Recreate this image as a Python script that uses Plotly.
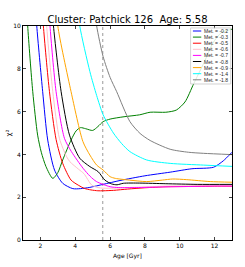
import plotly.graph_objects as go

AGE = 5.58
TITLE = "Cluster: Patchick 126  Age: 5.58"

met_labels = ["Met. = -0.2", "Met. = -0.3", "Met. = -0.5", "Met. = -0.6", "Met. = -0.7",
              "Met. = -0.8", "Met. = -0.9", "Met. = -1.4", "Met. = -1.8"]
colors = ["#0000ff", "#008000", "#ff0000", "#ffc0cb", "#ff00ff",
          "#000000", "#ffa500", "#00ffff", "#808080"]

age_m02 = [1.72, 1.79, 2.13, 2.42, 2.81, 3.28, 3.86, 4.3, 4.84, 5.6, 6.57, 8.0, 9.45, 10.7, 11.94, 12.5, 13.0]
chi_m02 = [11.0, 10.0, 6.93, 4.67, 3.27, 2.65, 2.4, 2.4, 2.46, 2.6, 2.78, 3.0, 3.17, 3.33, 3.4, 3.7, 4.1]

age_m03 = [1.2, 1.27, 1.56, 1.84, 2.05, 2.32, 2.71, 3.0, 3.28, 3.76, 4.05, 4.3, 4.6, 5.0, 5.3, 5.6, 6.0,
           6.8, 7.7, 8.3, 9.2, 9.8, 10.3, 10.8, 11.4, 11.9, 12.4, 13.0]
chi_m03 = [11.2, 10.0, 6.93, 4.9, 4.1, 3.43, 2.88, 3.15, 3.74, 4.67, 5.1, 5.25, 5.2, 5.12, 5.3, 5.53, 5.65,
           5.76, 5.85, 5.97, 5.97, 6.07, 6.45, 7.3, 8.3, 9.2, 9.7, 9.85]

age_m05 = [2.1, 2.17, 2.52, 2.9, 3.28, 3.76, 4.2, 4.53, 4.9, 5.3, 5.6, 6.2, 7.0, 8.0, 9.2, 10.5, 12.0, 13.0]
chi_m05 = [11.0, 10.0, 6.93, 4.7, 3.58, 2.8, 2.55, 2.41, 2.34, 2.3, 2.3, 2.32, 2.38, 2.44, 2.49, 2.5, 2.52, 2.52]

age_m06 = [2.3, 2.36, 2.71, 3.09, 3.5, 3.69, 4.2, 4.5, 4.94, 5.3, 5.6, 6.2, 7.0, 8.0, 9.2, 10.5, 12.0, 13.0]
chi_m06 = [11.0, 10.0, 6.93, 4.75, 3.9, 3.66, 3.3, 3.1, 2.57, 2.45, 2.42, 2.42, 2.45, 2.48, 2.52, 2.53, 2.55, 2.55]

age_m07 = [2.48, 2.55, 2.9, 3.38, 3.78, 4.45, 4.85, 5.22, 6.0, 6.5, 7.5, 9.0, 10.5, 12.0, 13.0]
chi_m07 = [11.0, 10.0, 6.93, 4.75, 4.13, 3.35, 2.98, 2.73, 2.49, 2.45, 2.45, 2.48, 2.5, 2.52, 2.52]

age_m08 = [2.68, 2.75, 3.19, 3.67, 4.26, 4.84, 5.32, 5.7, 6.09, 6.4, 6.76, 7.7, 9.2, 11.0, 13.0]
chi_m08 = [11.0, 10.0, 6.93, 4.9, 3.82, 3.43, 3.19, 2.8, 2.62, 2.58, 2.65, 2.66, 2.63, 2.6, 2.6]

age_m09 = [2.95, 3.0, 3.76, 4.44, 4.84, 5.23, 5.6, 6.0, 6.3, 7.1, 8.1, 9.0, 9.6, 10.4, 11.75, 13.0]
chi_m09 = [11.0, 10.0, 6.93, 4.6, 3.97, 3.5, 3.27, 2.96, 2.88, 2.8, 2.73, 2.8, 2.85, 2.82, 2.73, 2.7]

age_m14 = [4.15, 4.26, 4.84, 5.23, 5.6, 6.19, 6.67, 7.14, 8.1, 9.45, 11.37, 13.0]
chi_m14 = [11.0, 10.0, 7.87, 6.75, 5.85, 5.0, 4.5, 4.13, 3.74, 3.58, 3.5, 3.44]

age_m18 = [5.1, 5.23, 5.6, 6.0, 6.38, 7.14, 7.72, 8.3, 9.45, 10.5, 11.37, 13.0]
chi_m18 = [11.0, 10.0, 8.57, 7.6, 6.93, 5.53, 4.98, 4.65, 4.24, 4.1, 4.05, 3.99]

series_x = [age_m02, age_m03, age_m05, age_m06, age_m07, age_m08, age_m09, age_m14, age_m18]
series_y = [chi_m02, chi_m03, chi_m05, chi_m06, chi_m07, chi_m08, chi_m09, chi_m14, chi_m18]

x_ticks = [2, 4, 6, 8, 10, 12]
y_ticks = [0, 2, 4, 6, 8, 10]

FONT = "DejaVu Sans"
LEG_FONT = "Liberation Sans Narrow, Liberation Sans, Arial, sans-serif"

fig = go.Figure()

fig.add_trace(go.Scatter(x=[AGE, AGE], y=[0, 10], mode="lines",
                         line=dict(color="#808080", width=0.8, dash="dot"),
                         showlegend=False, hoverinfo="skip"))

for xs, ys, c, name in zip(series_x, series_y, colors, met_labels):
    fig.add_trace(go.Scatter(x=xs, y=ys, mode="lines", name=name,
                             line=dict(color=c, width=1, shape="spline", smoothing=0.7),
                             showlegend=False))

# manual compact legend (matplotlib-like)
shapes = [dict(type="rect", xref="paper", yref="paper", x0=0.802, x1=0.994, y0=0.729, y1=0.991,
               fillcolor="rgba(255,255,255,0.85)", line=dict(color="#c8c8c8", width=0.8), layer="above")]
annotations = []
for i, (c, name) in enumerate(zip(colors, met_labels)):
    yy = 0.9766 - 0.0285 * i
    shapes.append(dict(type="line", xref="paper", yref="paper", x0=0.813, x1=0.853, y0=yy, y1=yy,
                       line=dict(color=c, width=1), layer="above"))
    annotations.append(dict(xref="paper", yref="paper", x=0.862, y=yy, text=name, showarrow=False,
                            xanchor="left", yanchor="middle", borderpad=0,
                            font=dict(family=LEG_FONT, size=5, color="#222222")))

# axis titles
annotations.append(dict(xref="paper", yref="paper", x=0.5, y=-0.045, text="Age [Gyr]", showarrow=False,
                        xanchor="center", yanchor="top", font=dict(family=FONT, size=6, color="black")))
annotations.append(dict(xref="paper", yref="paper", x=-0.065, y=0.5, text="χ²", showarrow=False,
                        textangle=-90, xanchor="center", yanchor="middle",
                        font=dict(family=FONT, size=7, color="black")))

fig.update_layout(
    width=245, height=267,
    margin=dict(l=23, r=13, t=26, b=27),
    paper_bgcolor="white", plot_bgcolor="white",
    font=dict(family=FONT, color="black"),
    title=dict(text=TITLE, x=0.5, xref="paper", y=1 - 19 / 267, yref="container",
               xanchor="center", yanchor="middle", font=dict(family=FONT, size=10, color="black")),
    shapes=shapes, annotations=annotations,
    showlegend=False,
    hovermode=False,
)
fig.update_xaxes(range=[1, 13], tickvals=x_ticks, ticks="inside", ticklen=3, tickwidth=0.8,
                 showline=True, linecolor="black", linewidth=1, mirror="ticks", showgrid=False,
                 zeroline=False, tickfont=dict(size=6), automargin=False)
fig.update_yaxes(range=[0, 10], tickvals=y_ticks, ticks="inside", ticklen=3, tickwidth=0.8,
                 showline=True, linecolor="black", linewidth=1, mirror="ticks", showgrid=False,
                 zeroline=False, tickfont=dict(size=6), automargin=False)

fig.write_html("out.html", config={"displayModeBar": False},
               post_script="document.body.style.margin='0';")
